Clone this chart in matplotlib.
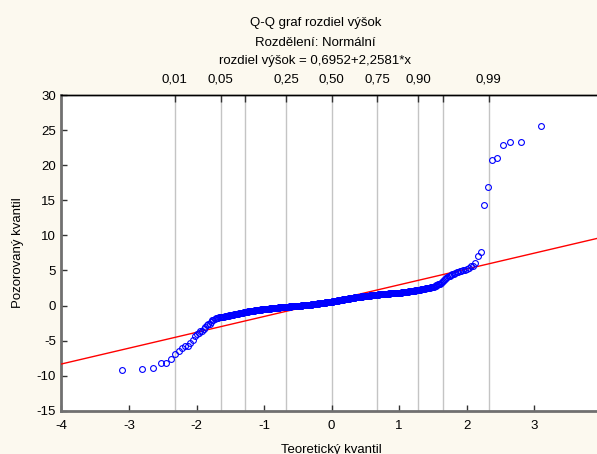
import matplotlib
matplotlib.use("Agg")
import matplotlib.pyplot as plt
from statistics import NormalDist

plt.rcParams['font.family'] = ['Liberation Sans', 'DejaVu Sans']

# --- chart text ---
title_lines = ["Q-Q graf rozdiel výšok", "Rozdělení: Normální",
               "rozdiel výšok = 0,6952+2,2581*x"]
xlabel = "Teoretický kvantil"
ylabel = "Pozorovaný kvantil"

# --- fitted line parameters (from title) ---
intercept = 0.6952
slope = 2.2581

# --- probability levels on the top axis ---
prob_levels = [0.01, 0.05, 0.10, 0.25, 0.50, 0.75, 0.90, 0.95, 0.99]
prob_labels = ["0,01", "0,05", "", "0,25", "0,50", "0,75", "0,90", "", "0,99"]

x_ticks = [-4, -3, -2, -1, 0, 1, 2, 3]
y_ticks = [-15, -10, -5, 0, 5, 10, 15, 20, 25, 30]

obs_low_tail = [-9.2, -9.0, -8.9, -8.2, -8.2, -7.6, -6.9, -6.5, -6.1, -5.8,
                -5.75, -5.3, -4.85, -4.4, -4.1, -3.85, -3.7, -3.6, -3.3, -3.1,
                -2.8, -2.7, -2.6, -2.4, -2.1,
                -2.0, -1.9, -1.85, -1.8, -1.75, -1.7]
obs_band_low = [-1.67, -1.65, -1.62, -1.59, -1.57, -1.54, -1.51, -1.49, -1.46, -1.43,
                -1.41, -1.38, -1.35, -1.33, -1.30,
                -1.28, -1.26, -1.24, -1.22, -1.20, -1.18, -1.17, -1.15, -1.13, -1.11,
                -1.09, -1.07, -1.05, -1.03, -1.01, -0.99, -0.97, -0.95, -0.93, -0.91,
                -0.89, -0.88, -0.86, -0.84, -0.82, -0.80,
                -0.79, -0.78, -0.77, -0.76, -0.75, -0.74, -0.73, -0.72, -0.71, -0.70,
                -0.69, -0.68, -0.67, -0.66, -0.65, -0.64, -0.63, -0.62, -0.61, -0.60,
                -0.59, -0.58, -0.57, -0.56, -0.55, -0.54, -0.53, -0.52, -0.52, -0.51,
                -0.51, -0.50, -0.50, -0.49, -0.48,
                -0.47, -0.47, -0.46, -0.46, -0.45, -0.44, -0.44, -0.43, -0.43, -0.42,
                -0.41, -0.41, -0.40, -0.40, -0.39, -0.38, -0.38, -0.37, -0.37, -0.36,
                -0.35, -0.35, -0.34, -0.34, -0.33, -0.32, -0.32, -0.31, -0.31, -0.30,
                -0.29, -0.29, -0.28, -0.28, -0.27, -0.26, -0.26, -0.25, -0.25, -0.24,
                -0.23, -0.23, -0.22, -0.22, -0.21, -0.21, -0.20, -0.20, -0.20, -0.19,
                -0.19, -0.19]
obs_band_mid = [-0.18, -0.18, -0.18, -0.17, -0.17, -0.16, -0.16, -0.16, -0.15, -0.15,
                -0.15, -0.14, -0.14, -0.13, -0.13, -0.13, -0.12, -0.12, -0.12, -0.11,
                -0.11, -0.10, -0.10, -0.10, -0.09, -0.09, -0.09, -0.08, -0.08, -0.07,
                -0.07, -0.07, -0.06, -0.06, -0.06, -0.05, -0.05, -0.04, -0.04, -0.04,
                -0.03, -0.03, -0.03, -0.02, -0.02, -0.01, -0.01, -0.01, 0.00, 0.00,
                0.00, 0.01, 0.01, 0.02, 0.02, 0.02, 0.03, 0.03, 0.03, 0.04,
                0.04, 0.04, 0.05, 0.05, 0.05, 0.06, 0.06, 0.06, 0.07, 0.07,
                0.07, 0.08, 0.08, 0.08, 0.09, 0.09, 0.09, 0.10, 0.10,
                0.11, 0.11, 0.12, 0.12, 0.13, 0.14, 0.14, 0.15, 0.15,
                0.16, 0.16, 0.17, 0.17, 0.18, 0.19, 0.19, 0.20, 0.20,
                0.21, 0.21, 0.22, 0.22, 0.23, 0.24, 0.24, 0.25, 0.25,
                0.26, 0.26, 0.27, 0.27, 0.28, 0.29, 0.29, 0.30, 0.30,
                0.31, 0.31, 0.32, 0.32, 0.33, 0.34, 0.34, 0.35, 0.35,
                0.36, 0.36, 0.37, 0.37, 0.38, 0.39, 0.39, 0.40, 0.40,
                0.41, 0.41, 0.42, 0.42, 0.43, 0.44, 0.44, 0.45, 0.45,
                0.46, 0.46, 0.47, 0.47, 0.48, 0.49, 0.49, 0.50, 0.50,
                0.51, 0.51, 0.52, 0.52, 0.53, 0.54, 0.54, 0.55, 0.55, 0.55]
obs_band_high = [0.56, 0.56, 0.57, 0.58, 0.58, 0.59, 0.60, 0.61, 0.61, 0.62, 0.63, 0.63, 0.64, 0.65,
                 0.66, 0.66, 0.67, 0.68, 0.68, 0.69, 0.70, 0.71, 0.71, 0.72, 0.73, 0.73, 0.74, 0.75,
                 0.76, 0.76, 0.77, 0.78, 0.78, 0.79, 0.80, 0.80, 0.81, 0.82, 0.82, 0.83, 0.84, 0.84, 0.85,
                 0.86, 0.86, 0.87, 0.88, 0.88, 0.89, 0.90, 0.91, 0.91, 0.92, 0.93, 0.93, 0.94, 0.95,
                 0.96, 0.96, 0.97, 0.98, 0.98, 0.99, 1.00, 1.00, 1.01, 1.02, 1.02, 1.03, 1.04, 1.04, 1.05,
                 1.06, 1.06, 1.07, 1.08, 1.08, 1.09, 1.10, 1.11, 1.11, 1.12, 1.13, 1.13, 1.14, 1.15,
                 1.16, 1.16, 1.17, 1.17, 1.18, 1.18, 1.19, 1.19, 1.20, 1.21, 1.21, 1.22, 1.22, 1.23,
                 1.23, 1.24, 1.24, 1.25,
                 1.26, 1.26, 1.27, 1.27, 1.28, 1.28, 1.29, 1.29, 1.30, 1.30, 1.31, 1.31, 1.32, 1.32,
                 1.33, 1.33, 1.34, 1.34, 1.35,
                 1.36, 1.36, 1.37, 1.37, 1.38, 1.38, 1.39, 1.39, 1.40, 1.41, 1.41, 1.42, 1.42, 1.43,
                 1.43, 1.44, 1.44, 1.45,
                 1.46, 1.46, 1.47, 1.47, 1.48, 1.48, 1.49, 1.49, 1.50, 1.50, 1.51, 1.51, 1.52, 1.52,
                 1.53, 1.53, 1.54, 1.54, 1.55,
                 1.56, 1.56, 1.57, 1.57, 1.58, 1.58, 1.59, 1.59, 1.60, 1.60, 1.60,
                 1.61, 1.61, 1.62, 1.62, 1.63, 1.63, 1.64, 1.64, 1.65, 1.65,
                 1.66, 1.66, 1.67, 1.67, 1.68, 1.68, 1.69, 1.69, 1.70, 1.70, 1.70,
                 1.71, 1.71, 1.72, 1.72, 1.73, 1.73, 1.74, 1.74, 1.75, 1.75,
                 1.76, 1.76, 1.77, 1.77, 1.78, 1.78, 1.79, 1.79, 1.80, 1.80, 1.80,
                 1.81, 1.81, 1.82, 1.82, 1.83, 1.83, 1.84, 1.84, 1.85, 1.85, 1.85]
obs_high_tail = [1.86, 1.87, 1.88, 1.89, 1.90, 1.91, 1.92, 1.93, 1.94, 1.95,
                 1.97, 1.98, 1.99, 2.00, 2.01, 2.02, 2.03, 2.04, 2.05, 2.06,
                 2.08, 2.09, 2.10, 2.11, 2.12, 2.13, 2.14, 2.15, 2.16, 2.17, 2.19, 2.20,
                 2.22, 2.24, 2.26, 2.28, 2.30, 2.32, 2.34, 2.36, 2.38, 2.40,
                 2.42, 2.44, 2.46, 2.48, 2.50, 2.52, 2.54, 2.56, 2.58, 2.60, 2.62, 2.63, 2.65,
                 2.72, 2.79, 2.86, 2.93, 3.00, 3.07, 3.13, 3.20,
                 3.34, 3.48, 3.62, 3.76, 3.90, 4.05,
                 4.15, 4.25, 4.35, 4.45, 4.55, 4.65, 4.75, 4.85, 4.90, 4.95, 5.00, 5.05, 5.15,
                 5.35, 5.60, 5.70, 6.10, 7.10, 7.60, 14.4, 16.9, 20.7, 21.0, 22.9, 23.3, 23.3, 25.6]

observed = sorted(obs_low_tail + obs_band_low + obs_band_mid + obs_band_high + obs_high_tail)
n = len(observed)
nd = NormalDist()
theoretical = [nd.inv_cdf((i + 1 - 0.375) / (n + 0.25)) for i in range(n)]
prob_pos = [nd.inv_cdf(p) for p in prob_levels]

FS = 9.5
bg = '#FCF9EF'
fig = plt.figure(figsize=(5.97, 4.54), dpi=100, facecolor=bg)
ax = fig.add_axes([0.103, 0.0954, 0.905, 0.6949])
ax.set_facecolor('white')

for xp in prob_pos:
    ax.axvline(xp, color='#C4C4C4', lw=1.0, zorder=1)

xlim = (-4, 4)
ylim = (-15, 30)
ax.plot(list(xlim), [intercept + slope * xlim[0], intercept + slope * xlim[1]],
        color='#FF0000', lw=1.0, zorder=3)
ax.plot(theoretical, observed, linestyle='none', marker='o', markersize=4.2,
        markerfacecolor='none', markeredgecolor='#0000FF', markeredgewidth=0.8, zorder=4)

ax.set_xlim(*xlim)
ax.set_ylim(*ylim)
ax.set_xticks(x_ticks)
ax.set_yticks(y_ticks)
ax.set_xticklabels([str(t) for t in x_ticks])
ax.set_yticklabels([str(t) for t in y_ticks])
ax.tick_params(axis='both', direction='in', length=4, width=1, color='#333333',
               labelsize=FS, labelcolor='black')
ax.tick_params(axis='x', pad=7)
ax.tick_params(axis='y', pad=4)

for s in ['left', 'bottom']:
    ax.spines[s].set_color('#707070')
    ax.spines[s].set_linewidth(2.0)
ax.spines['right'].set_visible(False)
ax.spines['top'].set_color('black')
ax.spines['top'].set_linewidth(1.0)

ax.set_xlabel(xlabel, fontsize=FS, labelpad=8)
ax.set_ylabel(ylabel, fontsize=FS, labelpad=9)

ax2 = ax.twiny()
ax2.set_xlim(*xlim)
ax2.set_xticks(prob_pos)
ax2.set_xticklabels(prob_labels)
ax2.tick_params(axis='x', direction='in', length=5, width=1, color='#333333',
                labelsize=FS, pad=7)
for s in ['left', 'bottom', 'right']:
    ax2.spines[s].set_visible(False)
ax2.spines['top'].set_color('black')
ax2.spines['top'].set_linewidth(1.0)

title_y = [1 - 23 / 454, 1 - 42.5 / 454, 1 - 61 / 454]
for txt, yy in zip(title_lines, title_y):
    fig.text(0.528, yy, txt, ha='center', va='center', fontsize=FS)

fig.savefig('out.png', dpi=100, facecolor=bg)
